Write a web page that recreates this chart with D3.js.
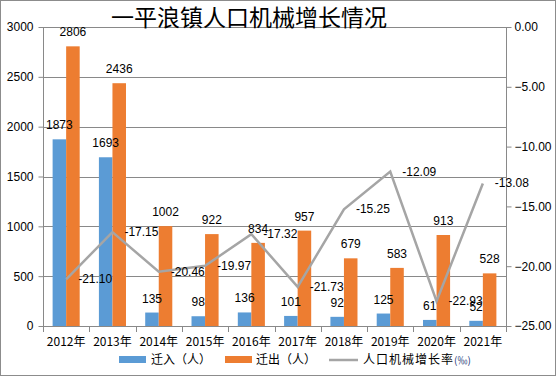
<!DOCTYPE html>
<html><head><meta charset="utf-8">
<script src="https://cdn.jsdelivr.net/npm/d3@7"></script>
<style>
html,body{margin:0;padding:0;background:#fff;}
svg{display:block;}
text{font-family:"Liberation Sans",Arial,sans-serif;}
.cjk{font-family:"Noto Sans CJK SC",sans-serif;}
</style></head>
<body>
<script>
const years = ["2012年","2013年","2014年","2015年","2016年","2017年","2018年","2019年","2020年","2021年"];
const inflow = [1873,1693,135,98,136,101,92,125,61,52];
const outflow = [2806,2436,1002,922,834,957,679,583,913,528];
const rate = [-21.10,-17.15,-20.46,-19.97,-17.32,-21.73,-15.25,-12.09,-22.93,-13.08];
const leftTicks = [0,500,1000,1500,2000,2500,3000];
const rightTicks = [0,-5,-10,-15,-20,-25];
const seriesNames = ["迁入（人）","迁出（人）","人口机械增长率"];
const title = "一平浪镇人口机械增长情况";

const W=556,H=376;
const svg=d3.select("body").append("svg").attr("width",W).attr("height",H);
svg.append("rect").attr("x",0.5).attr("y",0.5).attr("width",W-1).attr("height",H-1)
  .attr("fill","#fff").attr("stroke","#8c8c8c");

const L=43,R=506,T=27,B=326;
const x=d3.scaleBand().domain(years).range([L,R]).padding(0);
const sub=d3.scaleBand().domain(["in","out"]).range([0,x.bandwidth()]).paddingInner(0).paddingOuter(0.71);
const yL=d3.scaleLinear().domain([0,3000]).range([B,T]);
const yR=d3.scaleLinear().domain([-25,0]).range([B,T]);

// gridlines
svg.append("g").selectAll("line").data(leftTicks.filter(d=>d>0)).join("line")
  .attr("x1",L).attr("x2",R).attr("y1",d=>Math.round(yL(d))+0.5).attr("y2",d=>Math.round(yL(d))+0.5)
  .attr("stroke","#898989").attr("stroke-width",1);

// left axis
const gl=svg.append("g").attr("transform",`translate(${L+0.5},0)`)
  .call(d3.axisLeft(yL).tickValues(leftTicks).tickFormat(d3.format("d")).tickSize(5).tickPadding(5));
gl.select(".domain").attr("stroke","#898989").attr("d",`M0,${T}V${B}`);
gl.selectAll(".tick line").attr("stroke","#898989");
gl.selectAll(".tick text").attr("font-size",12).attr("fill","#000").style("font-family","'Liberation Sans',Arial,sans-serif");

// right axis
const gr=svg.append("g").attr("transform",`translate(${R+0.5},0)`)
  .call(d3.axisRight(yR).tickValues(rightTicks).tickFormat(d3.format(".2f")).tickSize(5).tickPadding(3));
gr.select(".domain").attr("stroke","#898989").attr("d",`M0,${T}V${B}`);
gr.selectAll(".tick line").attr("stroke","#898989");
gr.selectAll(".tick text").attr("font-size",12).attr("fill","#000").style("font-family","'Liberation Sans',Arial,sans-serif");

// bottom axis
const gb=svg.append("g").attr("transform",`translate(0,${B+0.5})`)
  .call(d3.axisBottom(x).tickSize(0).tickPadding(13));
gb.select(".domain").attr("stroke","#898989").attr("d",`M${L},0H${R}`);
gb.selectAll(".tick text").attr("font-size",12).attr("fill","#000").attr("class","cjk").attr("dy","0.5em");
svg.append("g").selectAll("line").data(years.concat(["_end"])).join("line")
  .attr("x1",(d,i)=>Math.round(L+i*x.step())+0.5).attr("x2",(d,i)=>Math.round(L+i*x.step())+0.5)
  .attr("y1",B).attr("y2",B+6).attr("stroke","#898989");

// bars
const bars=svg.append("g");
bars.selectAll("rect.in").data(years).join("rect").attr("class","in")
  .attr("x",(d)=>x(d)+sub("in")).attr("width",sub.bandwidth())
  .attr("y",(d,i)=>yL(inflow[i])).attr("height",(d,i)=>B-yL(inflow[i])).attr("fill","#5b9bd5");
bars.selectAll("rect.out").data(years).join("rect").attr("class","out")
  .attr("x",(d)=>x(d)+sub("out")).attr("width",sub.bandwidth())
  .attr("y",(d,i)=>yL(outflow[i])).attr("height",(d,i)=>B-yL(outflow[i])).attr("fill","#ed7d31");

// line
const line=d3.line().x((d,i)=>x(years[i])+x.bandwidth()/2).y(d=>yR(d));
svg.append("path").datum(rate).attr("d",line).attr("fill","none").attr("stroke","#a5a5a5").attr("stroke-width",2.5);

// bar labels
svg.append("g").selectAll("text").data(years).join("text")
  .attr("x",d=>x(d)+sub("in")+sub.bandwidth()/2).attr("y",(d,i)=>yL(inflow[i])-10)
  .attr("text-anchor","middle").attr("font-size",12).attr("fill","#000").text((d,i)=>inflow[i]);
svg.append("g").selectAll("text").data(years).join("text")
  .attr("x",d=>x(d)+sub("out")+sub.bandwidth()/2).attr("y",(d,i)=>yL(outflow[i])-10)
  .attr("text-anchor","middle").attr("font-size",12).attr("fill","#000").text((d,i)=>outflow[i]);
// line labels
svg.append("g").selectAll("text").data(rate).join("text")
  .attr("x",(d,i)=>x(years[i])+x.bandwidth()/2+12).attr("y",d=>yR(d)+4)
  .attr("font-size",12).attr("fill","#000").text(d=>d.toFixed(2));

// title
svg.append("text").attr("class","cjk").attr("x",249).attr("y",26).attr("text-anchor","middle")
  .attr("font-size",23).attr("fill","#000").text(title);

// legend
const lg=svg.append("g").attr("class","cjk");
lg.append("rect").attr("x",119).attr("y",356).attr("width",27).attr("height",7).attr("fill","#5b9bd5");
lg.append("text").attr("x",151).attr("y",364).attr("font-size",12).attr("class","cjk").text(seriesNames[0]);
lg.append("rect").attr("x",225).attr("y",356).attr("width",27).attr("height",7).attr("fill","#ed7d31");
lg.append("text").attr("x",256).attr("y",364).attr("font-size",12).attr("class","cjk").text(seriesNames[1]);
lg.append("line").attr("x1",329).attr("x2",358).attr("y1",360).attr("y2",360).attr("stroke","#a5a5a5").attr("stroke-width",2.5);
const lt=lg.append("text").attr("x",363).attr("y",364).attr("font-size",12).attr("class","cjk").attr("letter-spacing",1);
lt.append("tspan").text(seriesNames[2]);
lt.append("tspan").attr("font-size",10).attr("fill","#1f3b7a").attr("letter-spacing",0).text("(‰)");
</script>
</body></html>
